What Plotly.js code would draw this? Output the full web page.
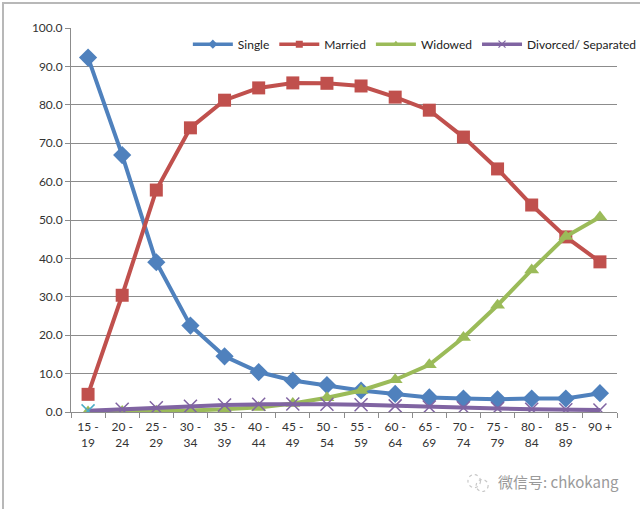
<!DOCTYPE html>
<html>
<head>
<meta charset="utf-8">
<script src="https://cdn.plot.ly/plotly-3.0.1.min.js"></script>
<style>
  html, body { margin: 0; padding: 0; background: #fff; }
  #wrap { position: relative; width: 640px; height: 509px; overflow: hidden; }
  #chart { width: 640px; height: 509px; }
  #frame { position: absolute; left: 2px; top: 2px; width: 700px; height: 600px;
           border: 2px solid #b8b8b8; box-sizing: border-box; pointer-events: none; }
</style>
</head>
<body>
<div id="wrap">
  <div id="chart"></div>
  <div id="frame"></div>
</div>
<script>
const ageGroups = ["15 -<br>19","20 -<br>24","25 -<br>29","30 -<br>34","35 -<br>39","40 -<br>44","45 -<br>49","50 -<br>54","55 -<br>59","60 -<br>64","65 -<br>69","70 -<br>74","75 -<br>79","80 -<br>84","85 -<br>89","90 +"];
const single   = [92.3, 66.9, 39.0, 22.5, 14.5, 10.4, 8.2, 7.0, 5.6, 4.7, 3.8, 3.5, 3.3, 3.5, 3.5, 4.9];
const married  = [4.6, 30.4, 57.8, 74.0, 81.2, 84.4, 85.7, 85.6, 84.9, 82.0, 78.6, 71.6, 63.3, 53.9, 45.6, 39.1];
const widowed  = [0.0, 0.1, 0.2, 0.4, 0.7, 1.2, 2.2, 3.7, 5.6, 8.4, 12.3, 19.4, 27.8, 37.0, 45.7, 50.8];
const divorced = [0.3, 0.7, 1.1, 1.5, 1.8, 2.0, 2.1, 2.0, 1.9, 1.6, 1.3, 1.1, 0.9, 0.7, 0.6, 0.5];
const seriesNames = ["Single", "Married", "Widowed", "Divorced/ Separated"];
const yTicks = [0, 10, 20, 30, 40, 50, 60, 70, 80, 90, 100];

const FONT = "Lato, 'Open Sans', sans-serif";
const colors = ["#4F81BD", "#C0504D", "#9BBB59", "#8064A2"];
const symbols = ["diamond", "square", "triangle-up", "x-thin"];
const divColors = divorced.map((v, i) => i === 0 ? "#4BACC6" : "#8064A2");
const values = [single, married, widowed, divorced];
const sizes = [14, 13, 13, 13];

const traces = [];
values.forEach((vals, k) => {
  const mc = k === 3 ? divColors : colors[k];
  traces.push({
    name: seriesNames[k], legendgroup: seriesNames[k], showlegend: false,
    x: ageGroups, y: vals, mode: "lines+markers",
    line: { color: colors[k], width: 4 },
    marker: { symbol: symbols[k], size: sizes[k], color: mc,
              line: k === 3 ? { color: mc, width: 1.5 } : { width: 0 } }
  });
});
// legend-only entries with small markers (Excel style legend keys)
values.forEach((vals, k) => {
  traces.push({
    name: seriesNames[k], legendgroup: seriesNames[k], showlegend: true,
    x: [ageGroups[0]], y: [null], mode: "lines+markers",
    line: { color: colors[k], width: 3.5 },
    marker: { symbol: symbols[k], size: 7, color: colors[k],
              line: k === 3 ? { color: colors[k], width: 1.2 } : { width: 0 } }
  });
});

const layout = {
  width: 640, height: 509,
  margin: { l: 71, r: 23, t: 28, b: 97, autoexpand: false },
  paper_bgcolor: "#ffffff", plot_bgcolor: "#ffffff",
  font: { family: FONT, size: 11, color: "#333333" },
  showlegend: true,
  legend: {
    orientation: "h", x: 0.214, xanchor: "left", y: 0.958, yanchor: "middle",
    bgcolor: "rgba(255,255,255,0)", font: { family: FONT, size: 12, color: "#222" },
    itemwidth: 40, tracegroupgap: 0
  },
  xaxis: {
    type: "category", range: [-0.5, 15.5],
    showgrid: false, zeroline: false,
    showline: true, linecolor: "#8c8c8c", linewidth: 1,
    ticks: "outside", ticklen: 5, tickcolor: "#8c8c8c",
    tickson: "boundaries", tickangle: 0, ticklabelstandoff: 4,
    tickfont: { family: FONT, size: 12, color: "#333" },
    fixedrange: true
  },
  yaxis: {
    range: [0, 100], tickvals: yTicks, tickformat: ".1f",
    showgrid: true, gridcolor: "#8c8c8c", gridwidth: 1,
    zeroline: false, showline: true, linecolor: "#8c8c8c", linewidth: 1,
    ticks: "outside", ticklen: 5, tickcolor: "#8c8c8c",
    tickfont: { family: FONT, size: 12, color: "#333" },
    fixedrange: true
  },
  annotations: [
    { xref: "paper", yref: "paper", x: 1.007, y: -0.18, xanchor: "right", yanchor: "middle",
      text: "微信号: chkokang", showarrow: false,
      font: { family: "'Noto Sans CJK SC', sans-serif", size: 15, color: "#9a9a9a" } }
  ],
  shapes: [
    { type: "circle", xref: "paper", yref: "paper",
      x0: 0.727, x1: 0.750, y0: -0.197, y1: -0.163,
      line: { color: "#c8c8c8", width: 1.2, dash: "dot" } },
    { type: "circle", xref: "paper", yref: "paper",
      x0: 0.742, x1: 0.764, y0: -0.207, y1: -0.176,
      line: { color: "#c8c8c8", width: 1.2, dash: "dot" } }
  ]
};

Plotly.newPlot("chart", traces, layout, { displayModeBar: false, staticPlot: true });
</script>
</body>
</html>
